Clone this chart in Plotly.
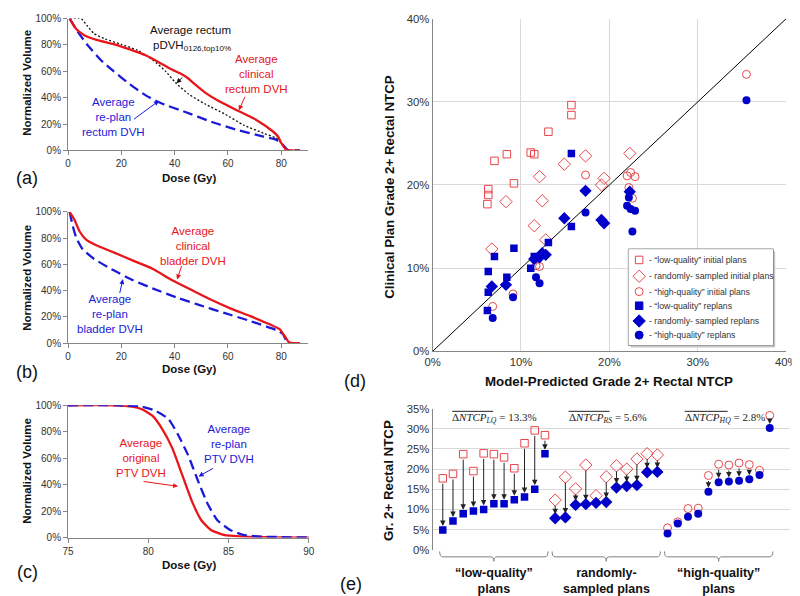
import plotly.graph_objects as go

W, H = 800, 596
FONT = "Liberation Sans, Arial, sans-serif"
SERIF = "Liberation Serif, Times New Roman, serif"
RED = "#e8151b"
BLUE = "#1a1ad8"
MRED = "#e8474c"
MBLUE = "#0000c8"
AXC = "#868686"
GRID = "#d9d9d9"
TXT = "#333333"

# ---------------- Panel (a): rectum DVHs ----------------
REC_DOSE_CLIN = [0.6, 3, 6.1, 11, 17.1, 23.2, 29.3, 34.2, 39.1, 42, 45, 48, 51.3, 56.2, 63.5, 70.8, 76.9, 78.8, 80, 81.8, 83.5, 87]
REC_VOL_CLIN = [100, 92.3, 87.4, 83.7, 80.7, 76.7, 72, 66.8, 61.2, 58.5, 54.8, 49.5, 44.1, 37.9, 30.4, 23, 14.4, 10.6, 5.7, 0.7, 0, 0]
REC_DOSE_PDVH = [0.6, 4.9, 7, 9.8, 14, 20, 26, 31.7, 36.6, 40.3, 45.2, 51.3, 58.6, 65.9, 73.3, 78.1, 80.6, 82, 87]
REC_VOL_PDVH = [100, 100, 95, 88.6, 84.5, 80.5, 76, 68.8, 60.1, 51.5, 42.8, 35.4, 27.9, 19.3, 13.1, 9.4, 4.5, 0.5, 0]
REC_DOSE_REPLAN = [0.6, 3.7, 7.3, 12.2, 17.1, 23.2, 29.3, 35.4, 44, 53.7, 63.5, 73.3, 78.1, 80.6, 82.4, 87]
REC_VOL_REPLAN = [100, 89.9, 80, 68.8, 60.1, 50.2, 41.6, 35.4, 29.2, 21.8, 15.6, 10.6, 8.2, 4.5, 0.5, 0]

# ---------------- Panel (b): bladder DVHs ----------------
BLA_DOSE_CLIN = [0.6, 2.4, 4.3, 6.7, 9.8, 17.1, 24.4, 31.7, 39.1, 46.4, 53.7, 61.1, 68.4, 75.7, 79.4, 81.2, 83, 87]
BLA_VOL_CLIN = [100, 94, 85.3, 79.1, 75.4, 69.2, 62.9, 56.7, 48, 40.5, 33.1, 26.4, 20.6, 14.4, 10.7, 5.7, 0.5, 0]
BLA_DOSE_REPLAN = [0.6, 1.8, 3.1, 5.5, 9.8, 17.1, 24.4, 31.7, 41.5, 48.8, 58.6, 68.4, 78.1, 80.6, 82.4, 87]
BLA_VOL_REPLAN = [100, 89.1, 80.3, 71.6, 64.2, 55.5, 48, 41.8, 34.3, 29.4, 23.1, 16.9, 10, 7, 0.5, 0]

# ---------------- Panel (c): PTV DVHs ----------------
PTV_DOSE_ORIG = [75, 77.8, 79, 79.6, 80.25, 80.86, 81.5, 82.1, 82.7, 83.3, 83.9, 84.7, 85.9, 88, 90]
PTV_VOL_ORIG = [100, 100, 99, 97, 92.1, 82.2, 67.4, 47.7, 27.9, 13.1, 5.7, 2, 0.7, 0.1, 0]
PTV_DOSE_REPLAN = [75, 78.4, 79.6, 80.45, 81.26, 81.87, 82.47, 83.1, 83.7, 84.3, 85.1, 85.9, 87.1, 90]
PTV_VOL_REPLAN = [100, 100, 99, 95.8, 89.6, 77.3, 62.5, 42.7, 25.4, 13.1, 5.7, 2, 0.7, 0]

DVH_X_TICKS = [0, 20, 40, 60, 80]
PTV_X_TICKS = [75, 80, 85, 90]
VOL_TICKS = [0, 20, 40, 60, 80, 100]

# ---------------- Panels (d)/(e): NTCP ----------------
LQ_MODEL = [6.2, 6.3, 8.4, 6.3, 11.1, 11.5, 7.0, 9.2, 13.1, 15.7, 15.7]
LQ_INITIAL = [17.7, 18.8, 23.7, 19.5, 23.9, 23.7, 22.9, 20.2, 26.4, 29.6, 28.4]
LQ_REPLAN = [4.9, 7.1, 8.9, 9.6, 10.0, 11.4, 11.4, 12.4, 13.1, 15.0, 23.8]

RS_MODEL = [6.7, 8.3, 11.5, 12.1, 12.8, 12.4, 19.4, 19.1, 14.9, 22.3, 17.3]
RS_INITIAL = [12.3, 18.0, 15.1, 21.0, 13.4, 18.1, 20.8, 20.0, 22.5, 23.8, 23.5]
RS_REPLAN = [7.8, 8.0, 11.1, 11.3, 11.6, 11.8, 15.4, 15.8, 16.0, 19.2, 19.3]

HQ_MODEL = [6.8, 9.1, 12.1, 11.7, 22.6, 17.3, 22.9, 22.4, 22.0, 22.2, 35.5]
HQ_INITIAL = [5.4, 6.9, 10.2, 10.3, 18.4, 21.2, 21.0, 21.5, 21.1, 19.7, 33.3]
HQ_REPLAN = [4.0, 6.5, 8.2, 8.9, 14.4, 16.7, 16.9, 17.1, 17.5, 18.5, 30.2]

IDENTITY = [0, 40]
NTCP_D_TICKS = [0, 10, 20, 30, 40]
NTCP_E_TICKS = [0, 5, 10, 15, 20, 25, 30, 35]

DELTA_LABELS = ["LQ", "RS", "HQ"]
DELTA_VALUES = [13.3, 5.6, 2.8]
GROUP_LABELS = ["\u201clow-quality\u201d<br>plans", "randomly-<br>sampled plans", "\u201chigh-quality\u201d<br>plans"]
LEGEND_TEXTS = [
    "- \u201clow-quality\u201d initial plans",
    "- randomly- sampled initial plans",
    "- \u201chigh-quality\u201d initial plans",
    "- \u201clow-quality\u201d replans",
    "- randomly- sampled replans",
    "- \u201chigh-quality\u201d replans",
]


def pct(vals):
    return [f"{v}%" for v in vals]


def px(x):
    return x / W


def py(y):
    return 1 - y / H


fig = go.Figure()

DOM = {
    "a": ([53.3, 299], [4.7, 139.3]),
    "b": ([53.3, 299], [202, 336]),
    "c": ([53.3, 300], [399.3, 534.3]),
    "d": ([426.7, 789], [4.7, 344.3]),
    "e": ([426.7, 793], [402.7, 546.7]),
}


def xdom(k):
    return [px(DOM[k][0][0]), px(DOM[k][0][1])]


def ydom(k):
    return [py(DOM[k][1][1]), py(DOM[k][1][0])]


small_axis = dict(showline=True, linecolor=AXC, linewidth=1, ticks="outside", ticklen=4,
                  tickcolor=AXC, showgrid=False, zeroline=False,
                  tickfont=dict(size=10, color=TXT, family=FONT))


def line(xs, ys, color, dash, width, ax):
    fig.add_trace(go.Scatter(x=xs, y=ys, mode="lines", xaxis=ax[0], yaxis=ax[1],
                             line=dict(color=color, dash=dash, width=width, shape="spline", smoothing=0.5),
                             showlegend=False, hoverinfo="skip"))


line(REC_DOSE_REPLAN, REC_VOL_REPLAN, BLUE, "10px,5px", 2.3, ("x", "y"))
line(REC_DOSE_PDVH, REC_VOL_PDVH, "#111111", "2px,2px", 1.3, ("x", "y"))
line(REC_DOSE_CLIN, REC_VOL_CLIN, RED, "solid", 2.3, ("x", "y"))

line(BLA_DOSE_REPLAN, BLA_VOL_REPLAN, BLUE, "10px,5px", 2.3, ("x2", "y2"))
line(BLA_DOSE_CLIN, BLA_VOL_CLIN, RED, "solid", 2.3, ("x2", "y2"))

line(PTV_DOSE_ORIG, PTV_VOL_ORIG, RED, "solid", 2.3, ("x3", "y3"))
line(PTV_DOSE_REPLAN, PTV_VOL_REPLAN, BLUE, "10px,5px", 2.3, ("x3", "y3"))

# ---- Panel (d) ----
fig.add_trace(go.Scatter(x=IDENTITY, y=IDENTITY, mode="lines", xaxis="x4", yaxis="y4",
                         line=dict(color="black", width=1), showlegend=False, hoverinfo="skip"))

GROUPS = [
    (LQ_MODEL, LQ_INITIAL, LQ_REPLAN, "square", 7.5, 7.5),
    (RS_MODEL, RS_INITIAL, RS_REPLAN, "diamond", 9.5, 9.5),
    (HQ_MODEL, HQ_INITIAL, HQ_REPLAN, "circle", 8, 8),
]

for model, init, rep, sym, s_open, s_fill in GROUPS:
    fig.add_trace(go.Scatter(x=model, y=init, mode="markers", xaxis="x4", yaxis="y4",
                             marker=dict(symbol=sym + "-open", size=s_open, color=MRED,
                                         line=dict(width=1, color=MRED)),
                             showlegend=False, hoverinfo="skip"))
for model, init, rep, sym, s_open, s_fill in GROUPS:
    fig.add_trace(go.Scatter(x=model, y=rep, mode="markers", xaxis="x4", yaxis="y4",
                             marker=dict(symbol=sym, size=s_fill, color=MBLUE, line=dict(width=0)),
                             showlegend=False, hoverinfo="skip"))

# ---- Panel (e) ----
annotations = []
shapes = []
offset = 0
group_spans = []
for model, init, rep, sym, s_open, s_fill in GROUPS:
    n = len(rep)
    order = sorted(range(n), key=lambda k: rep[k])
    idx = [offset + 1 + j for j in range(n)]
    ini_s = [init[k] for k in order]
    rep_s = [rep[k] for k in order]
    for i, a, b in zip(idx, ini_s, rep_s):
        if a - b > 2.5:
            annotations.append(dict(x=i, y=b, ax=i, ay=a, xref="x5", yref="y5", axref="x5", ayref="y5",
                                    text="", showarrow=True, arrowhead=2, arrowsize=1.1, arrowwidth=1,
                                    arrowcolor="#222222", standoff=4, startstandoff=4))
    fig.add_trace(go.Scatter(x=idx, y=ini_s, mode="markers", xaxis="x5", yaxis="y5",
                             marker=dict(symbol=sym + "-open", size=s_open, color=MRED,
                                         line=dict(width=1, color=MRED)),
                             showlegend=False, hoverinfo="skip"))
    fig.add_trace(go.Scatter(x=idx, y=rep_s, mode="markers", xaxis="x5", yaxis="y5",
                             marker=dict(symbol=sym, size=s_fill, color=MBLUE, line=dict(width=0)),
                             showlegend=False, hoverinfo="skip"))
    group_spans.append((idx[0], idx[-1]))
    offset += n

ytop, ymid, ybot = py(548.5), py(554), py(558.5)
for (f, l), lab in zip(group_spans, GROUP_LABELS):
    x0, x1 = f - 0.3, l + 0.3
    xc = (x0 + x1) / 2
    path = (f"M {x0},{ytop} Q {x0},{ymid} {x0+0.3},{ymid} L {xc-0.3},{ymid} "
            f"Q {xc},{ymid} {xc},{ybot} Q {xc},{ymid} {xc+0.3},{ymid} "
            f"L {x1-0.3},{ymid} Q {x1},{ymid} {x1},{ytop}")
    shapes.append(dict(type="path", path=path, xref="x5", yref="paper",
                       line=dict(color="#7f7f7f", width=1)))
    annotations.append(dict(x=xc, y=py(578.5), xref="x5", yref="paper", text=f"<b>{lab}</b>",
                            showarrow=False, xanchor="center", yanchor="middle", borderpad=0,
                            font=dict(size=12.5, color="#111111", family=FONT)))

DELTA_X = [446.7, 566, 685]
OVER_W = [42, 42, 44]
for x0, w, lab, val in zip(DELTA_X, OVER_W, DELTA_LABELS, DELTA_VALUES):
    annotations.append(dict(x=px(x0 - 2), y=py(412.5), xref="paper", yref="paper",
                            text=f"\u0394<i>NTCP</i><sub><i>{lab}</i></sub> = {val}%",
                            showarrow=False, xanchor="left", yanchor="middle",
                            font=dict(size=11, color="#222222", family=SERIF)))
    shapes.append(dict(type="line", xref="paper", yref="paper", x0=px(x0), x1=px(x0 + w),
                       y0=py(405.5), y1=py(405.5), line=dict(color="#222222", width=1)))

# ---- manual legend for (d) ----
LEG_X0, LEG_X1, LEG_Y0, LEG_Y1 = 627.3, 775.7, 240, 338.3
dx0, dx1 = DOM["d"][0]
dy0, dy1 = DOM["d"][1]


def d_x(p):
    return (p - dx0) / (dx1 - dx0) * 40


def d_y(p):
    return (dy1 - p) / (dy1 - dy0) * 40


shapes.append(dict(type="rect", xref="x4", yref="y4", x0=d_x(LEG_X0 + 2), x1=d_x(LEG_X1 + 2),
                   y0=d_y(LEG_Y1 + 2), y1=d_y(LEG_Y0 + 2), layer="between",
                   fillcolor="#c8c8c8", line=dict(width=0)))
shapes.append(dict(type="rect", xref="x4", yref="y4", x0=d_x(LEG_X0), x1=d_x(LEG_X1),
                   y0=d_y(LEG_Y1), y1=d_y(LEG_Y0), layer="between",
                   fillcolor="white", line=dict(color="#404040", width=1)))

LEG_ROWS = [251, 267.7, 283.3, 297.7, 313.3, 327.7]
leg_syms = [g[3] + "-open" for g in GROUPS] + [g[3] for g in GROUPS]
leg_sizes = [g[4] for g in GROUPS] + [g[5] for g in GROUPS]
leg_cols = [MRED] * 3 + [MBLUE] * 3
for r, s, sz, c, t in zip(LEG_ROWS, leg_syms, leg_sizes, leg_cols, LEGEND_TEXTS):
    fig.add_trace(go.Scatter(x=[638.3], y=[r], mode="markers", xaxis="x6", yaxis="y6",
                             marker=dict(symbol=s, size=sz, color=c, line=dict(width=1, color=c)),
                             showlegend=False, hoverinfo="skip", cliponaxis=False))
    annotations.append(dict(x=646, y=r, xref="x6", yref="y6", text=t, showarrow=False,
                            xanchor="left", yanchor="middle",
                            font=dict(size=8.7, color=TXT, family=FONT)))


def txt(x, y, text, color, size=11.5, bold=False, angle=0, family=FONT):
    annotations.append(dict(x=px(x), y=py(y), xref="paper", yref="paper",
                            text=f"<b>{text}</b>" if bold else text, showarrow=False,
                            xanchor="center", yanchor="middle", textangle=angle,
                            font=dict(size=size, color=color, family=family)))


def arrow(tail, head, color):
    annotations.append(dict(x=px(head[0]), y=py(head[1]), xref="paper", yref="paper",
                            ax=tail[0] - head[0], ay=tail[1] - head[1], text="", showarrow=True,
                            arrowhead=2, arrowsize=1, arrowwidth=1, arrowcolor=color))


txt(178.5, 16.7, "Average rectum", "#111111")
txt(180, 33, "pDVH<sub>0126,top10%</sub>", "#111111")
txt(246.7, 61.7, "Average<br>clinical<br>rectum DVH", RED)
txt(100, 105, "Average<br>re-plan<br>rectum DVH", BLUE)
arrow((171.7, 63.3), (164.3, 70.7), "#111111")
arrow((235, 83.3), (228.3, 98.3), RED)
arrow((120, 108), (146.5, 88.5), BLUE)

txt(181.7, 236.7, "Average<br>clinical<br>bladder DVH", RED)
txt(96.7, 306.5, "Average<br>re-plan<br>bladder DVH", BLUE)
arrow((170, 256), (165, 271), RED)
arrow((106, 286), (109.5, 270.5), BLUE)

txt(128.3, 453.3, "Average<br>original<br>PTV DVH", RED)
txt(218.3, 439, "Average<br>re-plan<br>PTV DVH", BLUE)
arrow((130, 477), (166, 482), RED)
arrow((203, 463), (187, 472), BLUE)

for yc in [70, 269, 466]:
    txt(10.5, yc, "Normalized Volume", "#111111", size=11.5, bold=True, angle=-90)
for yc in [167, 362.7, 562]:
    txt(177, yc, "Dose (Gy)", "#111111", size=11.5, bold=True)
txt(383, 176.5, "Clinical Plan Grade 2+ Rectal NTCP", "#111111", size=13.3, bold=True, angle=-90)
txt(607.3, 375.5, "Model-Predicted Grade 2+ Rectal NTCP", "#111111", size=13.3, bold=True)
txt(381.7, 476, "Gr. 2+ Rectal NTCP", "#111111", size=13.3, bold=True, angle=-90)

txt(11.5, 167, "(a)", "#111111", size=18)
txt(11.5, 365, "(b)", "#111111", size=18)
txt(11.5, 569, "(c)", "#111111", size=18)
txt(347, 375, "(d)", "#111111", size=18)
txt(343, 581.7, "(e)", "#111111", size=18)

big_axis = dict(showline=True, linecolor=AXC, linewidth=1, ticks="", showgrid=True,
                gridcolor=GRID, gridwidth=1, zeroline=False,
                tickfont=dict(size=11.3, color=TXT, family=FONT))

fig.update_layout(
    width=W, height=H, margin=dict(l=0, r=0, t=0, b=0),
    paper_bgcolor="white", plot_bgcolor="white", showlegend=False,
    font=dict(family=FONT, color=TXT),
    xaxis=dict(domain=xdom("a"), anchor="y", range=[0, 90], tickvals=DVH_X_TICKS, **small_axis),
    yaxis=dict(domain=ydom("a"), anchor="x", range=[0, 100], tickvals=VOL_TICKS, ticktext=pct(VOL_TICKS), **small_axis),
    xaxis2=dict(domain=xdom("b"), anchor="y2", range=[0, 90], tickvals=DVH_X_TICKS, **small_axis),
    yaxis2=dict(domain=ydom("b"), anchor="x2", range=[0, 100], tickvals=VOL_TICKS, ticktext=pct(VOL_TICKS), **small_axis),
    xaxis3=dict(domain=xdom("c"), anchor="y3", range=[75, 90], tickvals=PTV_X_TICKS, **small_axis),
    yaxis3=dict(domain=ydom("c"), anchor="x3", range=[0, 100], tickvals=VOL_TICKS, ticktext=pct(VOL_TICKS), **small_axis),
    xaxis4=dict(domain=xdom("d"), anchor="y4", range=[0, 40], tickvals=NTCP_D_TICKS, ticktext=pct(NTCP_D_TICKS), **big_axis),
    yaxis4=dict(domain=ydom("d"), anchor="x4", range=[0, 40], tickvals=NTCP_D_TICKS, ticktext=pct(NTCP_D_TICKS), **big_axis),
    xaxis5=dict(domain=xdom("e"), anchor="y5", range=[0, 35], showticklabels=False, showgrid=False,
                showline=False, zeroline=False, ticks=""),
    yaxis5=dict(domain=ydom("e"), anchor="x5", range=[0, 35], tickvals=NTCP_E_TICKS, ticktext=pct(NTCP_E_TICKS), **big_axis),
    xaxis6=dict(domain=[px(LEG_X0), px(LEG_X1)], anchor="y6", range=[LEG_X0, LEG_X1], visible=False),
    yaxis6=dict(domain=[py(LEG_Y1), py(LEG_Y0)], anchor="x6", range=[LEG_Y1, LEG_Y0], visible=False),
    annotations=annotations,
    shapes=shapes,
)

fig.write_html("out.html")
